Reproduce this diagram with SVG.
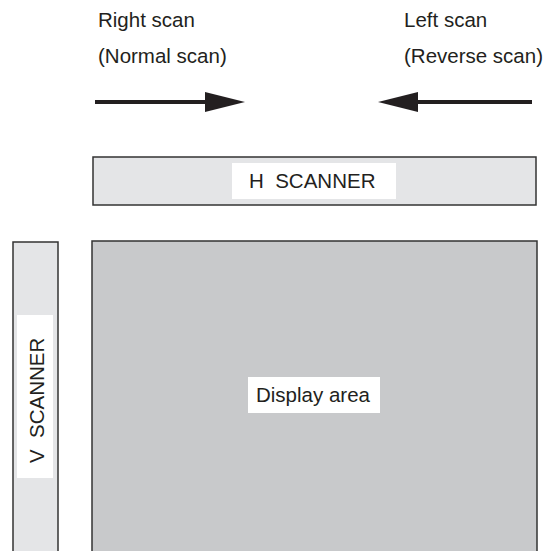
<svg xmlns="http://www.w3.org/2000/svg" width="549" height="551" viewBox="0 0 549 551">
<style>
text{font-family:"Liberation Sans",Arial,sans-serif;font-size:20.5px;fill:#231f20}
.pre{white-space:pre}
.box{stroke:#333;stroke-width:1.5}
.lbl{fill:#fff}
.arr{stroke:#231f20;stroke-width:4}
.head{fill:#231f20}
</style>
<rect width="549" height="551" fill="#fff"/>
<g id="labels">
<text x="98" y="27">Right scan</text>
<text x="98" y="63">(Normal scan)</text>
<text x="404" y="27">Left scan</text>
<text x="404" y="63">(Reverse scan)</text>
</g>
<g id="connectors">
<line class="arr" x1="95" y1="102" x2="208" y2="102"/>
<polygon class="head" points="205,92 245,102 205,112"/>
<line class="arr" x1="532" y1="102" x2="415" y2="102"/>
<polygon class="head" points="418,92 378,102 418,112"/>
</g>
<g id="h-scanner">
<rect class="box" x="93" y="157" width="443" height="48" fill="#e4e5e7"/>
<rect class="lbl" x="232" y="163" width="164" height="36"/>
<text class="pre" xml:space="preserve" x="249" y="188">H  SCANNER</text>
</g>
<g id="v-scanner">
<rect class="box" x="13" y="242" width="45" height="320" fill="#e4e5e7"/>
<rect class="lbl" x="17" y="315" width="36" height="163"/>
<text class="pre" xml:space="preserve" transform="translate(44,463) rotate(-90)">V  SCANNER</text>
</g>
<g id="display-area">
<rect class="box" x="92" y="241" width="445" height="320" fill="#c8c9cb"/>
<rect class="lbl" x="248" y="377" width="132" height="36"/>
<text x="256" y="402">Display area</text>
</g>
</svg>
